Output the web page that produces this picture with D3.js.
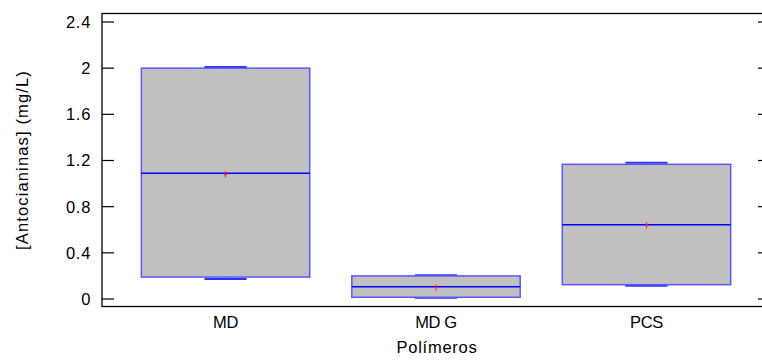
<!DOCTYPE html>
<html>
<head>
<meta charset="utf-8">
<script src="https://cdn.jsdelivr.net/npm/d3@7"></script>
<style>
  body { margin: 0; background: #fff; }
  text { font-family: "Liberation Sans", Arial, sans-serif; fill: #000; }
</style>
</head>
<body>
<script>
// box plot data
var categories = ["MD", "MD G", "PCS"];
var mins    = [0.173, 0.010, 0.115];
var q1s     = [0.190, 0.015, 0.124];
var medians = [1.089, 0.107, 0.644];
var q3s     = [2.000, 0.200, 1.167];
var maxs    = [2.010, 0.205, 1.180];
var means   = [1.080, 0.100, 0.638];
var yTicks  = [0, 0.4, 0.8, 1.2, 1.6, 2, 2.4];

var w = 762, h = 361;
var plotLeft = 102, plotRight = 770, plotTop = 13.5, plotBottom = 306.5;
var fontPx = "16.5px";

var svg = d3.select("body").append("svg")
  .attr("width", w)
  .attr("height", h);

var x = d3.scalePoint()
  .domain(categories)
  .range([plotLeft, plotRight])
  .padding(0.587);

var y = d3.scaleLinear()
  .domain([0, 2.4])
  .range([299, 22]);

var step = x.step();
var boxW = step * 0.8, capW = step * 0.2;

var boxes = categories.map(function (c, i) {
  return { name: c, min: mins[i], q1: q1s[i], med: medians[i], q3: q3s[i], max: maxs[i], mean: means[i] };
});

// stretch a text's letter spacing so it spans the wanted width
function fitWidth(node, target) {
  var len = node.getComputedTextLength();
  var n = node.textContent.length;
  var sp = (target - len) / n;
  d3.select(node).style("letter-spacing", sp + "px");
  return sp;
}

// frame
svg.append("rect")
  .attr("x", plotLeft).attr("y", plotTop)
  .attr("width", plotRight - plotLeft).attr("height", plotBottom - plotTop)
  .attr("fill", "none")
  .attr("stroke", "#000")
  .attr("stroke-width", 1.3);

// y ticks, left and right, pointing inward
var tickG = svg.append("g");
var tickLabels = [];
yTicks.forEach(function (t) {
  tickG.append("line")
    .attr("x1", plotLeft).attr("x2", plotLeft + 12)
    .attr("y1", y(t)).attr("y2", y(t))
    .attr("stroke", "#000").attr("stroke-width", 1.2);
  tickG.append("line")
    .attr("x1", plotRight - 12).attr("x2", plotRight)
    .attr("y1", y(t)).attr("y2", y(t))
    .attr("stroke", "#000").attr("stroke-width", 1.2);
  var tl = tickG.append("text")
    .attr("x", 91).attr("y", y(t))
    .attr("dy", "0.36em")
    .attr("text-anchor", "end")
    .style("font-size", fontPx)
    .text(d3.format("")(t));
  tickLabels.push(tl);
});
// "2.4" is about 25px wide in the picture
var tickSp = fitWidth(tickLabels[6].node(), 25);
tickLabels.forEach(function (tl) { tl.style("letter-spacing", tickSp + "px"); });

var g = svg.append("g").selectAll(".box")
  .data(boxes)
  .enter().append("g")
  .attr("class", "box");

// whiskers
g.append("line")
  .attr("x1", function (d) { return x(d.name); })
  .attr("x2", function (d) { return x(d.name); })
  .attr("y1", function (d) { return y(d.max); })
  .attr("y2", function (d) { return y(d.q3); })
  .attr("stroke", "#2020ff").attr("stroke-width", 1.2);
g.append("line")
  .attr("x1", function (d) { return x(d.name); })
  .attr("x2", function (d) { return x(d.name); })
  .attr("y1", function (d) { return y(d.min); })
  .attr("y2", function (d) { return y(d.q1); })
  .attr("stroke", "#2020ff").attr("stroke-width", 1.2);

// caps
g.append("line")
  .attr("x1", function (d) { return x(d.name) - capW / 2; })
  .attr("x2", function (d) { return x(d.name) + capW / 2; })
  .attr("y1", function (d) { return y(d.max); })
  .attr("y2", function (d) { return y(d.max); })
  .attr("stroke", "#3030ff").attr("stroke-width", 2);
g.append("line")
  .attr("x1", function (d) { return x(d.name) - capW / 2; })
  .attr("x2", function (d) { return x(d.name) + capW / 2; })
  .attr("y1", function (d) { return y(d.min); })
  .attr("y2", function (d) { return y(d.min); })
  .attr("stroke", "#3030ff").attr("stroke-width", 2);

// box body
g.append("rect")
  .attr("x", function (d) { return x(d.name) - boxW / 2; })
  .attr("y", function (d) { return y(d.q3); })
  .attr("width", boxW)
  .attr("height", function (d) { return y(d.q1) - y(d.q3); })
  .attr("fill", "#c0c0c0")
  .attr("stroke", "#5858ff")
  .attr("stroke-width", 1.5);

// median
g.append("line")
  .attr("x1", function (d) { return x(d.name) - boxW / 2; })
  .attr("x2", function (d) { return x(d.name) + boxW / 2; })
  .attr("y1", function (d) { return y(d.med); })
  .attr("y2", function (d) { return y(d.med); })
  .attr("stroke", "#0000ff").attr("stroke-width", 1.5);

// mean marker (small red plus)
g.append("path")
  .attr("d", function (d) {
    var cx = x(d.name), cy = y(d.mean);
    return "M" + (cx - 1.5) + "," + cy + "L" + (cx + 1.5) + "," + cy +
      "M" + cx + "," + (cy - 3) + "L" + cx + "," + (cy + 3);
  })
  .attr("stroke", "#ff2040").attr("stroke-width", 1.2)
  .attr("fill", "none");

// category labels
var cats = svg.append("g").selectAll(".cat")
  .data(categories)
  .enter().append("text")
  .attr("x", function (d) { return x(d); })
  .attr("y", 328)
  .attr("text-anchor", "middle")
  .style("font-size", fontPx)
  .text(function (d) { return d; });
var catSp = fitWidth(cats.nodes()[0], 25);
cats.style("letter-spacing", catSp + "px");

// axis titles
var xt = svg.append("text")
  .attr("x", 437).attr("y", 353)
  .attr("text-anchor", "middle")
  .style("font-size", fontPx)
  .text("Polímeros");
fitWidth(xt.node(), 81);

var yt = svg.append("text")
  .attr("transform", "translate(28,160) rotate(-90)")
  .attr("text-anchor", "middle")
  .style("font-size", fontPx)
  .text("[Antocianinas] (mg/L)");
fitWidth(yt.node(), 180);
</script>
</body>
</html>
